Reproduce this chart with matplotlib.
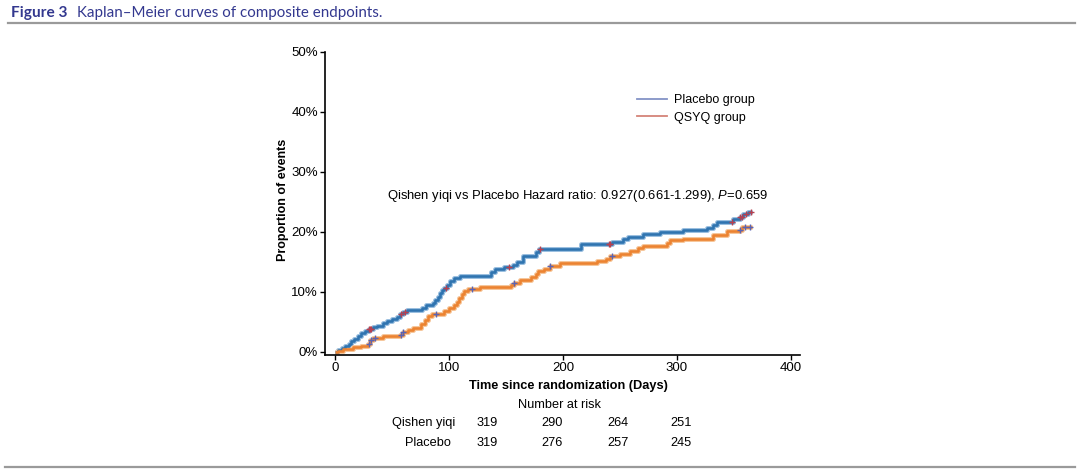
import matplotlib
matplotlib.use("Agg")
import matplotlib.pyplot as plt
from matplotlib.lines import Line2D
from matplotlib.ticker import FuncFormatter
import numpy as np

plt.rcParams['font.family'] = ['Liberation Sans', 'DejaVu Sans']
plt.rcParams['mathtext.fontset'] = 'custom'
plt.rcParams['mathtext.rm'] = 'Liberation Sans'
plt.rcParams['mathtext.it'] = 'Liberation Sans:italic'

# ---- data ----
placebo_t = [0, 3, 6, 9, 12, 14, 17, 20, 23, 26, 30, 33, 37, 42, 46, 50, 54, 57, 60, 63,
             76, 80, 86, 88, 90, 92, 94, 96, 98, 101, 104, 110, 137, 140, 148, 156, 160,
             165, 176, 179, 216, 243, 253, 257, 270, 285, 305, 326, 332, 335, 349, 355,
             358, 362, 366]
placebo_p = [0, 0.4, 0.7, 1.0, 1.4, 1.8, 2.2, 2.6, 3.2, 3.5, 3.8, 4.1, 4.4, 4.8, 5.1, 5.5,
             5.9, 6.3, 6.7, 7.0, 7.4, 7.8, 8.1, 8.6, 9.2, 9.8, 10.3, 10.7, 11.2, 11.9, 12.3,
             12.7, 13.4, 13.8, 14.1, 14.5, 15.0, 16.0, 16.6, 17.1, 18.0, 18.4, 18.8, 19.2,
             19.6, 20.0, 20.4, 20.7, 21.2, 21.7, 22.1, 22.5, 23.0, 23.4, 23.4]
placebo_cens = [30, 31, 32, 58, 61, 97, 153, 180, 240, 241, 348, 355, 357, 361, 365]

qsyq_t = [0, 3, 7, 16, 23, 29, 31, 33, 42, 57, 60, 64, 68, 75, 79, 82, 85, 96, 100, 104,
          107, 109, 111, 113, 117, 127, 154, 157, 162, 172, 176, 178, 183, 189, 197, 230,
          238, 241, 250, 259, 266, 270, 291, 294, 305, 332, 344, 355, 357, 366]
qsyq_p = [0, 0.2, 0.5, 0.8, 1.0, 1.3, 2.0, 2.3, 2.6, 2.8, 3.3, 3.6, 4.0, 4.6, 5.4, 6.0, 6.4,
          6.8, 7.4, 7.8, 8.3, 9.0, 9.6, 10.1, 10.5, 10.8, 11.2, 11.5, 12.0, 12.5, 13.0, 13.5,
          13.9, 14.4, 14.8, 15.2, 15.5, 16.0, 16.4, 16.9, 17.3, 17.7, 18.1, 18.7, 18.9, 19.5,
          20.1, 20.4, 20.9, 20.9]
qsyq_cens = [29.5, 31.5, 35, 58, 60, 89, 120, 157, 189, 243, 355, 360, 364]

x_ticks = [0, 100, 200, 300, 400]
y_ticks = [0, 10, 20, 30, 40, 50]
risk_groups = ["Qishen yiqi", "Placebo"]
risk_qsyq = [319, 290, 264, 251]
risk_placebo = [319, 276, 257, 245]

W, H = 1080, 474
fig = plt.figure(figsize=(W / 100, H / 100), dpi=100)

def fx(px):
    return px / W

def fy(py):
    return 1 - py / H

ax = fig.add_axes([fx(325), fy(355), fx(800) - fx(325), fy(52) - fy(355)])
ax.set_xlim(-8.8, 408)
ax.set_ylim(-0.5, 50)

blue = '#2f74b0'
orange = '#ec8331'

def step_val(ts, ps, t):
    idx = np.searchsorted(ts, t, side='right') - 1
    return ps[idx]

for ts, ps, col, halo, cens, ccol in [
        (placebo_t, placebo_p, blue, '#9cc0e0', placebo_cens, '#b8404f'),
        (qsyq_t, qsyq_p, orange, '#f6c79c', qsyq_cens, '#5a64b4')]:
    ax.plot(ts, ps, drawstyle='steps-post', color=halo, lw=3.6, solid_capstyle='butt', zorder=2)
    ax.plot(ts, ps, drawstyle='steps-post', color=col, lw=1.9, solid_capstyle='butt', zorder=3)
    cy = [step_val(ts, ps, c) for c in cens]
    ax.plot(cens, cy, ls='none', marker='+', ms=5, mew=1.0, color=ccol, zorder=4)

for s in ['top', 'right']:
    ax.spines[s].set_visible(False)
for s in ['left', 'bottom']:
    ax.spines[s].set_linewidth(1.2)

ax.set_xticks(x_ticks)
ax.set_yticks(y_ticks)
ax.yaxis.set_major_formatter(FuncFormatter(lambda v, p: f"{int(v)}%"))
ax.tick_params(axis='both', labelsize=9.5, length=3.5, width=1.0, pad=1.5, colors='black')

fig.text(fx(568), fy(386), "Time since randomization (Days)", fontsize=9.2, fontweight='bold',
         ha='center', va='center')
fig.text(fx(283), fy(200), "Proportion of events", fontsize=9, fontweight='bold',
         ha='center', va='center', rotation=90)

handles = [Line2D([0], [0], color='#8393c6', lw=1.3),
           Line2D([0], [0], color='#d48478', lw=1.3)]
fig.legend(handles, ["Placebo group", "QSYQ group"], loc='upper left',
           bbox_to_anchor=(fx(637), fy(94)), frameon=False, fontsize=9,
           handlelength=2.4, handletextpad=0.6, labelspacing=0.45, borderpad=0, borderaxespad=0)

fig.text(fx(577), fy(196), "Qishen yiqi vs Placebo Hazard ratio: 0.927(0.661-1.299), $\\it{P}$=0.659",
         ha='center', va='center', fontsize=9.4)

# Title
title_col = '#33388f'
fig.text(fx(11), fy(13), "Figure 3", fontsize=11.1, fontweight='bold', color=title_col,
         ha='left', va='center', family=['Lato', 'DejaVu Sans'])
fig.text(fx(77), fy(13), "Kaplan\u2013Meier curves of composite endpoints.", fontsize=10.9,
         color=title_col, ha='left', va='center', family=['Lato', 'DejaVu Sans'])
fig.add_artist(Line2D([fx(8), fx(1075)], [fy(22.5), fy(22.5)], color='#9a9a9a', lw=1.6))
fig.add_artist(Line2D([fx(5), fx(1075)], [fy(467), fy(467)], color='#9a9a9a', lw=1.6))

# Number at risk table
fig.text(fx(560), fy(405), "Number at risk", ha='center', va='center', fontsize=9.2)
col_x = [487, 552, 618, 681]
for row_y, name, name_x, vals in [(423, risk_groups[0], 424, risk_qsyq),
                                  (442.5, risk_groups[1], 428, risk_placebo)]:
    fig.text(fx(name_x), fy(row_y), name, ha='center', va='center', fontsize=9.2)
    for cx, v in zip(col_x, vals):
        fig.text(fx(cx), fy(row_y), str(v), ha='center', va='center', fontsize=9.2)

fig.savefig("out.png", dpi=100)
